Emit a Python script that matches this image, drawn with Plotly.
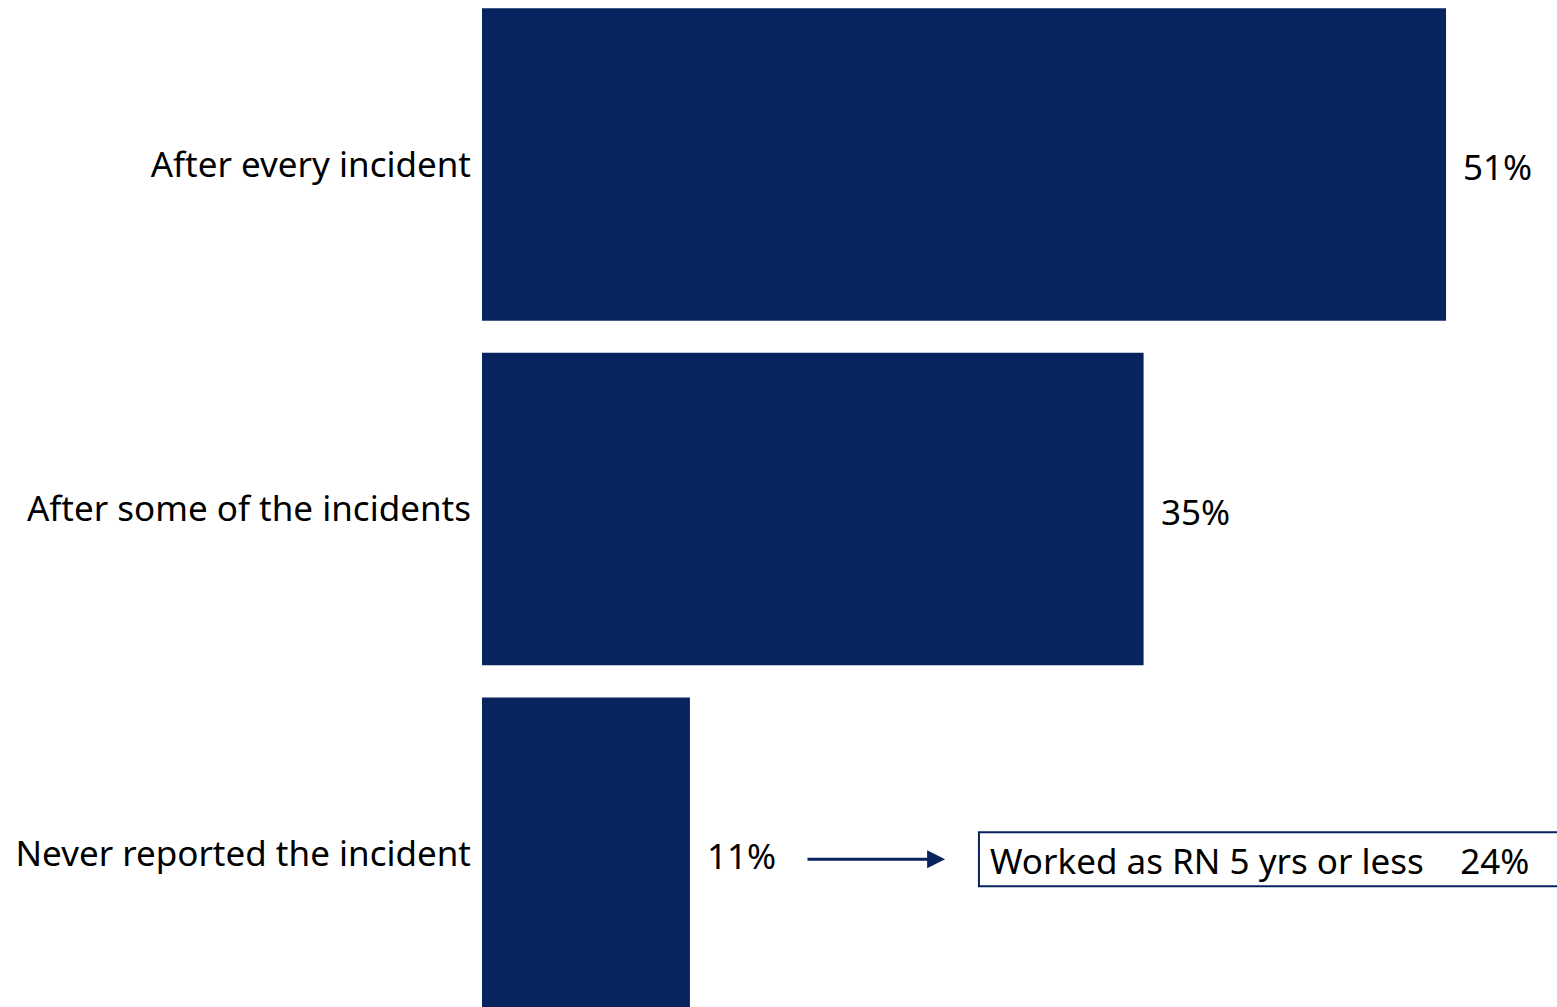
import plotly.graph_objects as go

# Survey responses: how often incidents were reported
categories = ["After every incident", "After some of the incidents", "Never reported the incident"]
values = [51, 35, 11]
value_labels = ["51%", "35%", "11%"]

# Callout for the "never reported" group
callout_text = "Worked as RN 5 yrs or less    24%"

NAVY = "#08245F"
FONT = "Noto Sans"
SIZE = 35

positions = list(range(len(categories)))

fig = go.Figure(
    go.Bar(
        x=values,
        y=positions,
        orientation="h",
        marker=dict(color=NAVY, line=dict(width=0)),
        width=0.907,
        hoverinfo="skip",
    )
)

# Value labels just past the end of each bar
for pos, val, lab in zip(positions, values, value_labels):
    fig.add_annotation(
        x=val, y=pos, xref="x", yref="y",
        text=lab, showarrow=False,
        xanchor="left", yanchor="middle", xshift=15, yshift=-2,
        font=dict(family=FONT, size=SIZE, color="#000000"),
    )

# Arrow pointing from the 11% label to the callout box
fig.add_annotation(
    x=24.5, y=2.016, ax=17.14, ay=2.016,
    xref="x", yref="y", axref="x", ayref="y",
    text="", showarrow=True,
    arrowhead=2, arrowsize=1.2, arrowwidth=3, arrowcolor=NAVY,
)

# Callout box (open on the right, running off the edge) and its text
fig.add_shape(
    type="rect", xref="x", yref="y",
    x0=26.29, x1=57.5, y0=1.9376, y1=2.0943,
    line=dict(color=NAVY, width=2), fillcolor="rgba(0,0,0,0)",
)
fig.add_annotation(
    x=26.29, y=2.016, xref="x", yref="y",
    text=callout_text, showarrow=False,
    xanchor="left", yanchor="middle", xshift=9, yshift=-1,
    font=dict(family=FONT, size=SIZE, color="#000000"),
)

fig.update_layout(
    width=1557, height=1007,
    margin=dict(l=482, r=0, t=0, b=0),
    paper_bgcolor="white", plot_bgcolor="white",
    showlegend=False,
    xaxis=dict(range=[0, 56.87], visible=False, fixedrange=True),
    yaxis=dict(
        range=[2.445, -0.4775],
        tickmode="array", tickvals=positions, ticktext=categories,
        showgrid=False, zeroline=False, showline=False, ticks="",
        ticklabelstandoff=10,
        tickfont=dict(family=FONT, size=SIZE, color="#000000"),
        fixedrange=True,
    ),
)

fig.write_html("out.html")
